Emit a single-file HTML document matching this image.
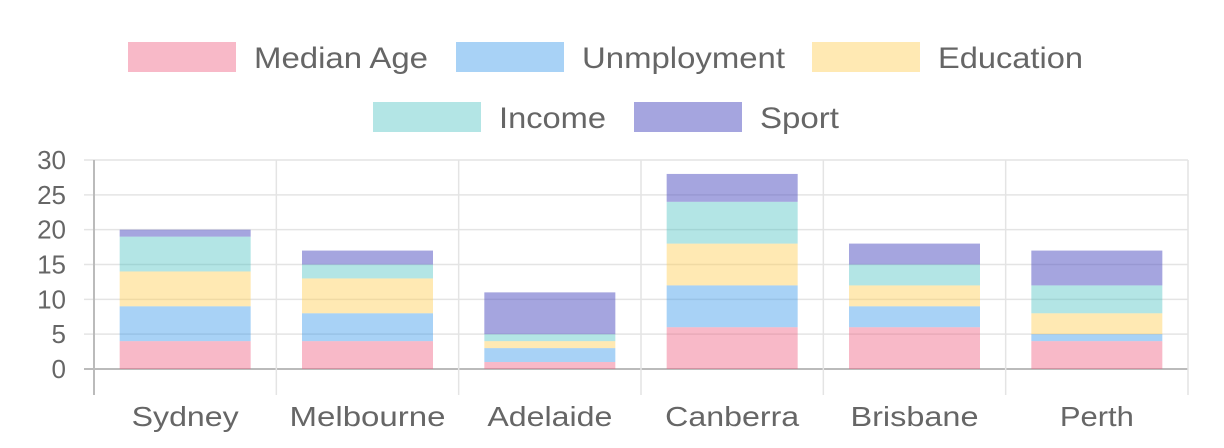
<!DOCTYPE html>
<html><head><meta charset="utf-8"><style>
html,body{margin:0;padding:0;background:#fff;}
svg{display:block;font-family:"Liberation Sans",Arial,sans-serif;}
</style></head><body>
<svg id="chart" width="1224" height="448" viewBox="0 0 1224 448" xmlns="http://www.w3.org/2000/svg">
<g id="legend"></g>
<g id="grid"></g>
<g id="bars"></g>
<g id="axes"></g>
</svg>
<script>
const categories = ["Sydney","Melbourne","Adelaide","Canberra","Brisbane","Perth"];
const seriesNames = ["Median Age","Unmployment","Education","Income","Sport"];
const medianAge = [4,4,1,6,6,4];
const unemployment = [5,4,2,6,3,1];
const education = [5,5,1,6,3,3];
const income = [5,2,1,6,3,4];
const sport = [1,2,6,4,3,5];
const yTicks = [0,5,10,15,20,25,30];

const series=[medianAge,unemployment,education,income,sport];
const colors=["rgba(240,99,132,0.45)","rgba(54,150,235,0.43)","rgba(255,206,86,0.45)","rgba(75,192,192,0.42)","rgba(75,75,192,0.5)"];
const NS="http://www.w3.org/2000/svg";
const X0=94,X1=1188,Y0=369,Y1=160,YMAX=30;
const bw=(X1-X0)/categories.length;
const y=v=>Y0-(v/YMAX)*(Y0-Y1);
const xc=i=>X0+bw*(i+0.5);
const xLabelW=[107,156,125,134,128,74];
const legW=[174,203,145,107,79];
function mk(tag,attrs,parent){const e=document.createElementNS(NS,tag);for(const k in attrs)e.setAttribute(k,attrs[k]);parent.appendChild(e);return e;}
const grid=document.getElementById('grid'),bars=document.getElementById('bars'),axes=document.getElementById('axes'),legend=document.getElementById('legend');
yTicks.forEach(t=>{
 const l=mk('line',{x1:84,x2:X1,y1:y(t),y2:y(t),stroke:t===0?'#bbb':'#e4e4e4','stroke-width':t===0?2:1.5},grid);
 
 
 const tx=mk('text',{x:66,y:y(t)+9,'text-anchor':'end','font-size':26,fill:'#666'},axes);
 tx.textContent=t;
 
 
});
for(let i=0;i<=categories.length;i++){
 const gx=X0+bw*i;
 const l=mk('line',{x1:gx,x2:gx,y1:Y1,y2:395,stroke:i===0?'#bbb':'#e4e4e4','stroke-width':i===0?2:1.5},grid);
 
 
}
categories.forEach((c,i)=>{
 let acc=0;const w=131;
 series.forEach((s,k)=>{
  const r=mk('rect',{x:xc(i)-w/2,y:y(acc+s[i]),width:w,height:y(acc)-y(acc+s[i]),fill:colors[k]},bars);
  
  
  acc+=s[i];
 });
 const tx=mk('text',{x:xc(i),y:426,'text-anchor':'middle','font-size':28,fill:'#666',textLength:xLabelW[i],lengthAdjust:'spacingAndGlyphs'},axes);
 tx.textContent=c;
 
 
});
const lpos=[[128,42],[456,42],[812,42],[373,102],[634,102]];
seriesNames.forEach((n,k)=>{
 const g=mk('g',{},legend);
 
 
 mk('rect',{x:lpos[k][0],y:lpos[k][1],width:108,height:30,fill:colors[k]},g);
 const t=mk('text',{x:lpos[k][0]+126,y:lpos[k][1]+26,'font-size':30,fill:'#666',textLength:legW[k],lengthAdjust:'spacingAndGlyphs'},g);
 t.textContent=n;
});
</script>
</body></html>
